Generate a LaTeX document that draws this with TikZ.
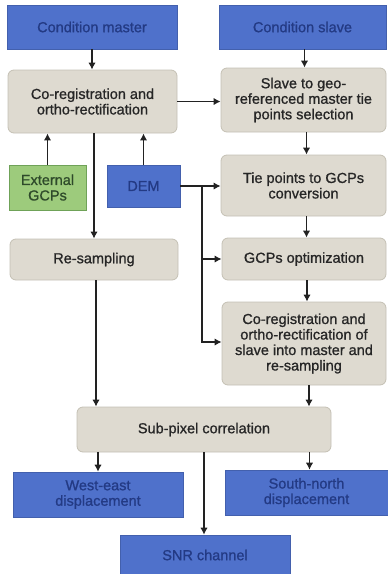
\documentclass[tikz,border=0pt]{standalone}
\usepackage{fontspec}
\setmainfont{Liberation Sans}[FakeBold=1]
\usetikzlibrary{arrows.meta,calc}
\definecolor{bluebox}{HTML}{4F71CB}
\definecolor{bluetext}{HTML}{233A84}
\definecolor{graybox}{HTML}{DEDAD0}
\definecolor{grayedge}{HTML}{C4C0B4}
\definecolor{greenbox}{HTML}{9DCB7C}
\definecolor{greenedge}{HTML}{6FA258}
\definecolor{greentext}{HTML}{2E4A2A}
\definecolor{linec}{HTML}{222222}
\begin{document}
\begin{tikzpicture}[x=1pt,y=-1pt,
  base/.style={inner sep=2pt,align=center,font=\fontsize{14.5}{15.5}\selectfont},
  bluenode/.style={base,fill=bluebox,draw=bluebox!85!black,line width=0.6pt,text=bluetext},
  graynode/.style={base,fill=graybox,draw=grayedge,line width=0.8pt,rounded corners=6pt,text=black!85},
  greennode/.style={base,fill=greenbox,draw=greenedge,line width=0.8pt,text=greentext},
  arr/.style={draw=linec,line width=1.8pt,-{Latex[length=7pt,width=7.5pt]}},
  ln/.style={draw=linec,line width=1.8pt}]
\useasboundingbox (0,0) rectangle (388,574);
\node[bluenode,minimum width=170pt,minimum height=44pt] (master) at (92,27) {Condition master};
\node[bluenode,minimum width=167pt,minimum height=44pt] (slave) at (302.5,27) {Condition slave};
\node[graynode,minimum width=169pt,minimum height=63pt] (coreg) at (92.5,101.5) {Co-registration and\\ortho-rectification};
\node[graynode,minimum width=165pt,minimum height=64pt] (sgeo) at (303.5,100) {Slave to geo-\\referenced master tie\\points selection};
\node[greennode,minimum width=77pt,minimum height=45pt] (ext) at (47.5,187.5) {External\\GCPs};
\node[bluenode,minimum width=73pt,minimum height=42pt] (dem) at (143.5,186) {DEM};
\node[graynode,minimum width=165pt,minimum height=61pt] (tie) at (303.5,185.5) {Tie points to GCPs\\conversion};
\node[graynode,minimum width=168pt,minimum height=41pt] (resamp) at (94,259.5) {Re-sampling};
\node[graynode,minimum width=164pt,minimum height=42pt] (gcpopt) at (304,259) {GCPs optimization};
\node[graynode,minimum width=164pt,minimum height=83pt] (coregs) at (304,343.5) {Co-registration and\\ortho-rectification of\\slave into master and\\re-sampling};
\node[graynode,minimum width=254pt,minimum height=45pt] (subpix) at (204,429.5) {Sub-pixel correlation};
\node[bluenode,minimum width=170pt,minimum height=45pt] (we) at (98,494.5) {West-east\\displacement};
\node[bluenode,minimum width=163pt,minimum height=45pt] (sn) at (306.5,492.5) {South-north\\displacement};
\node[bluenode,minimum width=170pt,minimum height=40pt] (snr) at (205,555) {SNR channel};
\coordinate (br) at (202,186);
% connectors
\draw[arr] (master.south) -- (master.south |- coreg.north);
\draw[arr] ([xshift=2pt]slave.south) -- ([xshift=2pt]slave.south |- sgeo.north);
\draw[arr] (coreg.east) -- (coreg.east -| sgeo.west);
\draw[arr] (ext.north) -- (ext.north |- coreg.south);
\draw[arr] (dem.north) -- (dem.north |- coreg.south);
\draw[arr] (resamp.north |- coreg.south) -- (resamp.north);
\draw[arr] ([xshift=3pt]sgeo.south) -- ([xshift=3pt]sgeo.south |- tie.north);
\draw[arr] ([xshift=3pt]tie.south) -- ([xshift=3pt]tie.south |- gcpopt.north);
\draw[arr] ([xshift=3pt]gcpopt.south) -- ([xshift=3pt]gcpopt.south |- coregs.north);
\draw[arr] (dem.east) -- (dem.east -| tie.west);
\draw[arr] (br) |- (gcpopt.west);
\draw[arr] (br) |- ([yshift=1.5pt]coregs.west);
\draw[arr] ([xshift=2pt]resamp.south) -- ([xshift=2pt]resamp.south |- subpix.north);
\draw[arr] ([xshift=5pt]coregs.south) -- ([xshift=5pt]coregs.south |- subpix.north);
\draw[arr] (we.north |- subpix.south) -- (we.north);
\draw[arr] ([xshift=3pt]sn.north |- subpix.south) -- ([xshift=3pt]sn.north);
\draw[arr] (subpix.south) -- (subpix.south |- snr.north);
\end{tikzpicture}
\end{document}
